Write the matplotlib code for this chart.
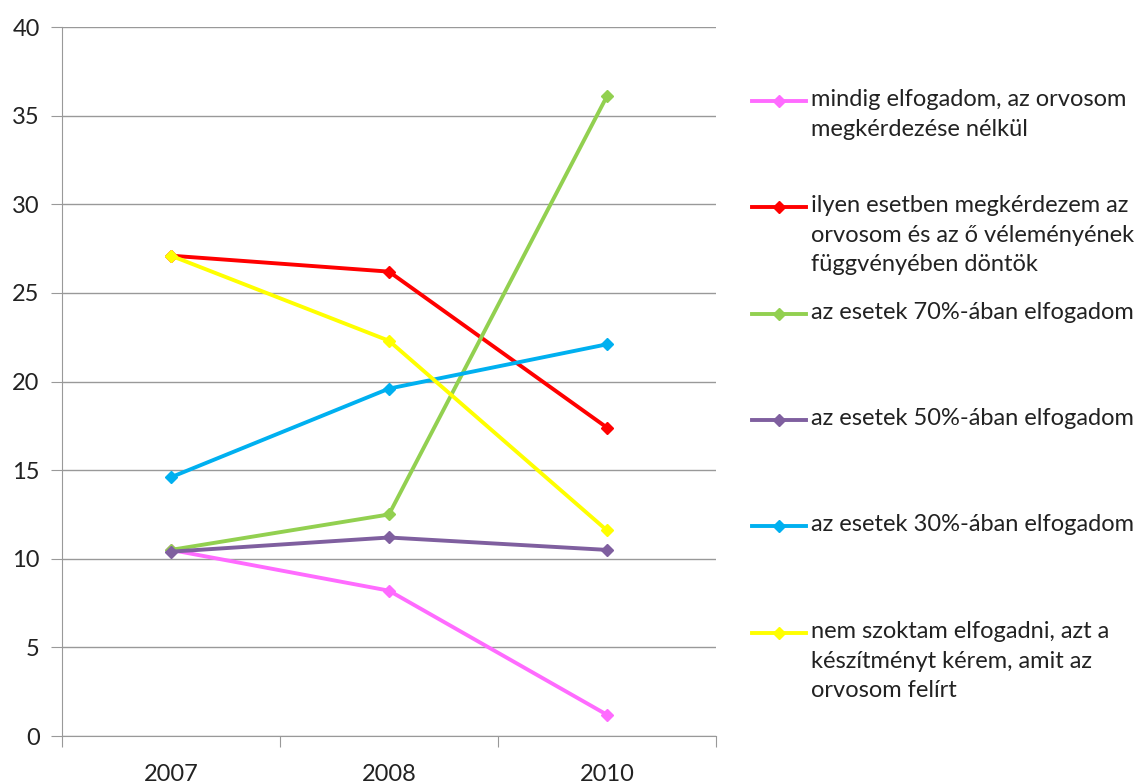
import matplotlib
matplotlib.use("Agg")
import matplotlib.pyplot as plt
from matplotlib.lines import Line2D

plt.rcParams['font.family'] = ['Lato', 'DejaVu Sans']

years = ['2007', '2008', '2010']
labels = [
    'mindig elfogadom, az orvosom\nmegkérdezése nélkül',
    'ilyen esetben megkérdezem az\norvosom és az ő véleményének\nfüggvényében döntök',
    'az esetek 70%-ában elfogadom',
    'az esetek 50%-ában elfogadom',
    'az esetek 30%-ában elfogadom',
    'nem szoktam elfogadni, azt a\nkészítményt kérem, amit az\norvosom felírt',
]
mindig = [10.5, 8.2, 1.2]
megkerdezem = [27.1, 26.2, 17.4]
eset70 = [10.5, 12.5, 36.1]
eset50 = [10.4, 11.2, 10.5]
eset30 = [14.6, 19.6, 22.1]
nem = [27.1, 22.3, 11.6]

series = [mindig, megkerdezem, eset70, eset50, eset30, nem]
colors = ['#FF6BFF', '#FF0000', '#92D050', '#7F5F9F', '#00B0F0', '#FFFF00']

fig = plt.figure(figsize=(11.41, 7.83), dpi=100)
ax = fig.add_axes([0.0543, 0.06, 0.5732, 0.9055])

x = range(len(years))
for vals, c in zip(series, colors):
    ax.plot(x, vals, color=c, lw=2.8, marker='D', ms=6, mec=c, mfc=c, zorder=3)

ax.set_xlim(-0.5, 2.5)
ax.set_ylim(0, 40)
ax.set_yticks(range(0, 41, 5))
ax.set_xticks([-0.5, 0.5, 1.5, 2.5])
ax.set_xticklabels([])
ax.set_xticks(list(x), minor=True)
ax.set_xticklabels(years, minor=True)
ax.tick_params(axis='x', which='minor', length=0, pad=20, labelsize=17, labelcolor='#222222')
ax.tick_params(axis='x', which='major', length=8, color='#999999', direction='out')
ax.tick_params(axis='y', length=8, color='#999999', labelsize=17, labelcolor='#222222', pad=8)
ax.grid(axis='y', color='#999999', lw=1)
ax.set_axisbelow(True)
for s in ['top', 'right']:
    ax.spines[s].set_visible(False)
for s in ['left', 'bottom']:
    ax.spines[s].set_color('#999999')

# legend drawn by hand so multi-line entries keep the handle on the first line
W, H = 1141, 783
entry_y = [101, 207, 314, 420, 526, 633]
for lab, c, yp in zip(labels, colors, entry_y):
    fy = 1 - yp / H
    fig.add_artist(Line2D([752 / W, 806 / W], [fy, fy], color=c, lw=2.8))
    fig.add_artist(Line2D([779 / W], [fy], color=c, marker='D', ms=6, mec=c, mfc=c))
    fig.text(811 / W, fy + 12 / H, lab, fontsize=17, color='#222222',
             va='top', ha='left', linespacing=1.5)

fig.savefig('out.png', dpi=100, facecolor='white')
